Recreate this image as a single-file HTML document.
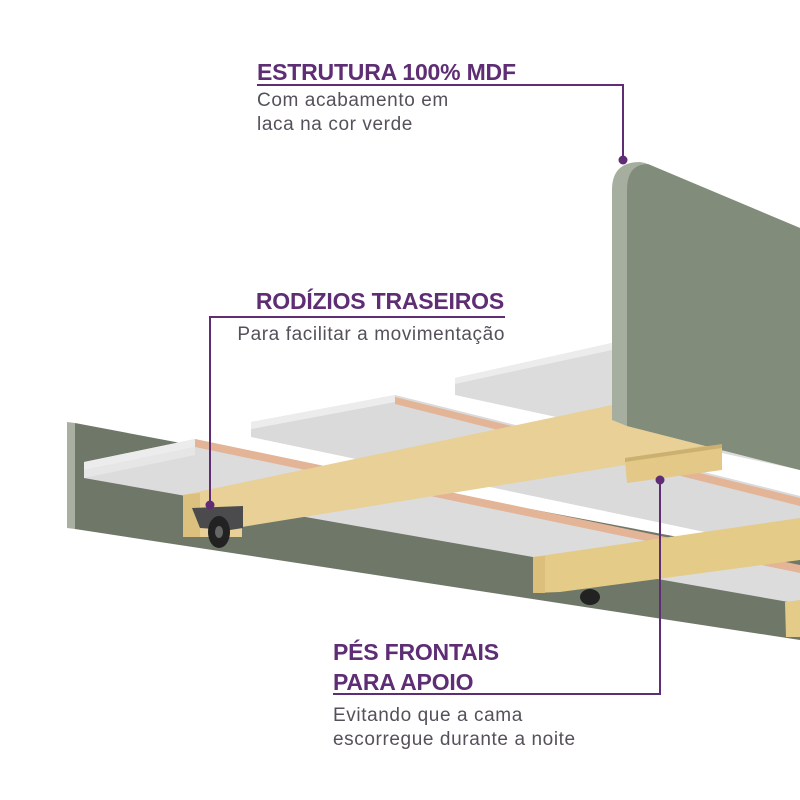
<!DOCTYPE html>
<html><head><meta charset="utf-8"><style>
html,body{margin:0;padding:0;background:#fff;width:800px;height:800px;overflow:hidden}
svg{display:block}
.t{font-family:"Liberation Sans",sans-serif;font-weight:bold;fill:#5e2d74;font-size:23px;letter-spacing:-0.2px}
.s{font-family:"Liberation Sans",sans-serif;fill:#55505a;font-size:19px;letter-spacing:0.6px}
</style></head><body>
<svg width="800" height="800" viewBox="0 0 800 800" xmlns="http://www.w3.org/2000/svg">
<!-- green front rail -->
<polygon points="67,422 75,423 75,529 67,528" fill="#a9b0a2"/>
<polygon points="75,423 800,560 800,640 75,529" fill="#6f7768"/>
<!-- slat 3 (back) -->
<polygon points="455,378 612,343 800,400 800,470 455,395" fill="#dcdcdd"/>
<polygon points="455,378 612,343 612,350 455,384" fill="#ececed"/>
<!-- slat 2 -->
<polygon points="251,422 395,395 800,496 800,552 251,437" fill="#dadadb"/>
<polygon points="251,422 395,395 395,402 251,429" fill="#ececed"/>
<polygon points="395,397 800,498 800,506 395,404" fill="#e3b495"/>
<!-- slat 1 (front) -->
<polygon points="84,462 195,439 800,566 800,604 84,478" fill="#dcdcdd"/>
<polygon points="84,462 195,439 195,447 84,470" fill="#ececed"/>
<polygon points="195,439 800,565 800,573 195,447" fill="#e3b495"/>
<polygon points="84,470 195,447 195,455 84,478" fill="#e6e6e7"/>
<!-- wood beam 1 -->
<polygon points="183,495 660,395 730,440 730,450 625,465 242,527 242,537 183,537" fill="#e8d096"/>
<polygon points="183,495 200,493 200,537 183,537" fill="#dcc07e"/>
<!-- headboard -->
<path d="M612,420 L612,190 Q612,162 640,162 L645,163 L800,228 L800,470 L627,426 Z" fill="#a5ae9f"/>
<path d="M627,426 L627,190 Q627,164 648,164 L800,228 L800,470 Z" fill="#818c7b"/>
<!-- foot block -->
<polygon points="625,460 700,446 722,446 722,470 627,483" fill="#e3c887"/>
<polygon points="625,458 722,444 722,448 625,462" fill="#cbb06f"/>
<!-- wood beam 2 -->
<polygon points="533,557 800,518 800,560 560,592 533,593" fill="#e4cb87"/>
<polygon points="533,557 545,556 545,593 533,593" fill="#dcbf7a"/>
<polygon points="785,602 800,600 800,637 786,637" fill="#e4cb87"/>
<!-- casters -->
<polygon points="192,508 243,506 243,528 230,530 200,528" fill="#4b4b4d"/>
<ellipse cx="219" cy="532" rx="11" ry="16" fill="#222"/>
<ellipse cx="219" cy="532" rx="4" ry="6" fill="#666"/>
<ellipse cx="590" cy="597" rx="10" ry="8" fill="#222"/>
<!-- callout lines -->
<g stroke="#5e2d74" stroke-width="2" fill="none">
<polyline points="257,85 623,85 623,160"/>
<polyline points="505,317 210,317 210,505"/>
<polyline points="333,694 660,694 660,480"/>
</g>
<g fill="#5e2d74">
<circle cx="623" cy="160" r="4.5"/>
<circle cx="210" cy="505" r="4.5"/>
<circle cx="660" cy="480" r="4.5"/>
</g>
<!-- text -->
<text class="t" x="257" y="80">ESTRUTURA 100% MDF</text>
<text class="s" x="257" y="106">Com acabamento em</text>
<text class="s" x="257" y="130">laca na cor verde</text>
<text class="t" x="504" y="309" text-anchor="end">RODÍZIOS TRASEIROS</text>
<text class="s" x="505" y="340" text-anchor="end">Para facilitar a movimentação</text>
<text class="t" x="333" y="660">PÉS FRONTAIS</text>
<text class="t" x="333" y="690">PARA APOIO</text>
<text class="s" x="333" y="721">Evitando que a cama</text>
<text class="s" x="333" y="745">escorregue durante a noite</text>
</svg>
</body></html>
